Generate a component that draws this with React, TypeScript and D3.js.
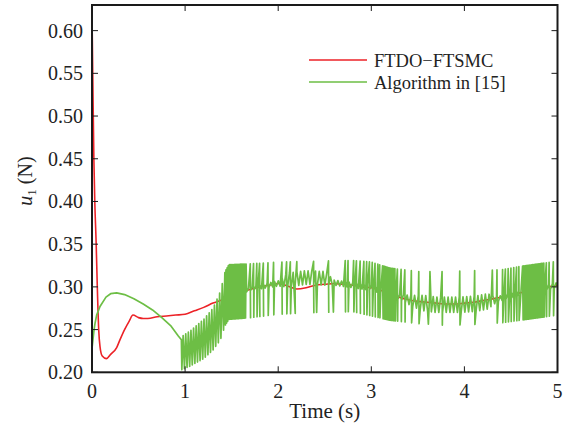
import React, { useEffect, useRef } from 'react';
import * as d3 from 'd3';

// FTDO-FTSMC control input u1
const redT = [0, 0.008, 0.02, 0.03, 0.045, 0.057, 0.072, 0.086, 0.11, 0.155, 0.2, 0.265, 0.3, 0.35, 0.4, 0.44, 0.5, 0.55, 0.6, 0.7, 0.8, 0.9, 1.0, 1.1, 1.2, 1.3, 1.4, 1.5, 1.6, 1.7, 1.8, 1.9, 2.0, 2.1, 2.2, 2.3, 2.4, 2.5, 2.6, 2.7, 2.8, 2.9, 3.0, 3.1, 3.2, 3.3, 3.4, 3.5, 3.6, 3.7, 3.8, 3.9, 4.0, 4.1, 4.2, 4.3, 4.4, 4.5, 4.6, 4.7, 4.8, 4.9, 5.0];
const redV = [0.62, 0.55, 0.45, 0.40, 0.35, 0.30, 0.25, 0.23, 0.219, 0.216, 0.221, 0.229, 0.238, 0.25, 0.26, 0.267, 0.264, 0.263, 0.263, 0.265, 0.266, 0.267, 0.268, 0.272, 0.276, 0.281, 0.285, 0.29, 0.294, 0.297, 0.30, 0.302, 0.304, 0.301, 0.2975, 0.299, 0.302, 0.303, 0.304, 0.303, 0.302, 0.30, 0.299, 0.296, 0.292, 0.288, 0.285, 0.283, 0.282, 0.281, 0.28, 0.28, 0.281, 0.282, 0.284, 0.286, 0.288, 0.29, 0.293, 0.296, 0.298, 0.30, 0.302];

// Algorithm in [15]: smooth start, then chattering
const greenT = [0, 0.02, 0.032, 0.05, 0.086, 0.15, 0.2, 0.265, 0.35, 0.45, 0.55, 0.65, 0.75, 0.85, 0.927, 0.96];
const greenV = [0.228, 0.248, 0.257, 0.267, 0.277, 0.288, 0.292, 0.293, 0.291, 0.286, 0.28, 0.273, 0.264, 0.254, 0.2425, 0.238];

// chattering envelope (upper / lower)
const envT = [0.965, 1.05, 1.2, 1.3, 1.38, 1.43, 1.47, 1.7, 2.0, 2.4, 2.8, 3.0, 3.2, 3.5, 3.8, 4.1, 4.4, 4.6, 4.8, 5.0];
const envHi = [0.242, 0.248, 0.262, 0.275, 0.295, 0.318, 0.326, 0.327, 0.329, 0.330, 0.331, 0.329, 0.322, 0.318, 0.318, 0.319, 0.320, 0.324, 0.327, 0.330];
const envLo = [0.203, 0.207, 0.216, 0.226, 0.238, 0.255, 0.262, 0.264, 0.268, 0.270, 0.271, 0.266, 0.261, 0.257, 0.255, 0.256, 0.258, 0.261, 0.264, 0.267];

// centre and width of the small noise between spikes
const midT = [1.66, 1.8, 2.0, 2.1, 2.3, 2.5, 2.6, 2.8, 3.0, 3.3, 3.5, 3.7, 3.9, 4.1, 4.3, 4.5, 4.7, 5.0];
const midV = [0.296, 0.300, 0.304, 0.308, 0.311, 0.310, 0.305, 0.302, 0.299, 0.288, 0.282, 0.279, 0.279, 0.280, 0.284, 0.29, 0.295, 0.302];
const noiseT = [1.66, 2.0, 2.1, 2.5, 2.6, 3.3, 3.55, 4.25, 4.35, 5.0];
const noiseA = [0.002, 0.003, 0.008, 0.008, 0.003, 0.003, 0.009, 0.009, 0.003, 0.003];

// dense chattering bands: [from, to, period]
const denseBands = [[0.965, 1.42, 0.028], [1.42, 1.66, 0.012], [3.11, 3.26, 0.012], [4.61, 4.86, 0.012]];

// isolated spikes: b = both ways, u = up only, d = down only
const spikes: [number, string][] = [[1.70, 'b'], [1.735, 'b'], [1.77, 'b'], [1.80, 'b'], [1.84, 'b'], [1.89, 'b'], [1.95, 'b'], [2.04, 'b'], [2.09, 'b'], [2.13, 'b'], [2.18, 'd'], [2.20, 'u'], [2.38, 'b'], [2.41, 'd'], [2.54, 'b'], [2.59, 'd'], [2.72, 'b'], [2.75, 'b'], [2.81, 'b'], [2.84, 'b'], [2.88, 'b'], [2.92, 'b'], [2.95, 'b'], [2.98, 'b'], [3.01, 'b'], [3.04, 'b'], [3.07, 'b'], [3.09, 'b'], [3.28, 'b'], [3.32, 'b'], [3.36, 'b'], [3.43, 'b'], [3.51, 'b'], [3.61, 'd'], [3.63, 'u'], [3.76, 'b'], [3.95, 'b'], [4.11, 'b'], [4.30, 'u'], [4.35, 'b'], [4.41, 'b'], [4.44, 'b'], [4.47, 'b'], [4.50, 'b'], [4.53, 'b'], [4.56, 'b'], [4.585, 'b'], [4.88, 'b'], [4.91, 'b'], [4.955, 'b']];

const xTicks = [0, 1, 2, 3, 4, 5];
const yTicks = [0.20, 0.25, 0.30, 0.35, 0.40, 0.45, 0.50, 0.55, 0.60];
const legendLabels = ['FTDO\u2212FTSMC', 'Algorithm in [15]'];
const colors = ['#ec2227', '#6dbe45'];

const W = 568;
const H = 428;
const left = 92, right = 557.5, top = 5, bottom = 372.3;
const font = '"Liberation Serif", "Times New Roman", serif';

function greenPoints() {
  const hiS = d3.scaleLinear().domain(envT).range(envHi).clamp(true);
  const loS = d3.scaleLinear().domain(envT).range(envLo).clamp(true);
  const midS = d3.scaleLinear().domain(midT).range(midV).clamp(true);
  const ampS = d3.scaleLinear().domain(noiseT).range(noiseA).clamp(true);
  const pts: [number, number][] = greenT.map((t, i) => [t, greenV[i]]);
  let t = denseBands[0][0];
  let up = false;
  let k = 0;
  while (t < 5) {
    const band = denseBands.find(b => t >= b[0] && t < b[1]);
    if (band) {
      pts.push([t, up ? hiS(t) : loS(t)]);
      up = !up;
      t += band[2] / 2;
      continue;
    }
    while (k < spikes.length && spikes[k][0] <= t) {
      const [ts, kind] = spikes[k++];
      if (kind !== 'd') pts.push([ts, hiS(ts)]);
      if (kind !== 'u') pts.push([ts + 0.003, loS(ts)]);
    }
    pts.push([t, midS(t) + (up ? 1 : -1) * ampS(t)]);
    up = !up;
    t += 0.02;
  }
  pts.push([5, midS(5)]);
  return pts;
}

export default function App() {
  const ref = useRef<SVGSVGElement>(null);

  useEffect(() => {
    const svg = d3.select(ref.current);
    svg.selectAll('*').remove();

    const x = d3.scaleLinear().domain([0, 5]).range([left, right]);
    const y = d3.scaleLinear().domain([0.2, 0.63]).range([bottom, top]);

    const clip = svg.append('defs').append('clipPath').attr('id', 'plotclip');
    clip.append('rect').attr('x', left).attr('y', top).attr('width', right - left).attr('height', bottom - top);

    const line = d3.line<[number, number]>().x(d => x(d[0])).y(d => y(d[1]));

    const g = svg.append('g').attr('clip-path', 'url(#plotclip)');
    g.append('path')
      .datum(redT.map((t, i) => [t, redV[i]] as [number, number]))
      .attr('d', line.curve(d3.curveMonotoneX))
      .attr('fill', 'none')
      .attr('stroke', colors[0])
      .attr('stroke-width', 1.6)
      .attr('stroke-linejoin', 'round');
    g.append('path')
      .datum(greenPoints())
      .attr('d', line.curve(d3.curveLinear))
      .attr('fill', 'none')
      .attr('stroke', colors[1])
      .attr('stroke-width', 1.7)
      .attr('stroke-linejoin', 'round');

    // ticks inside, on all four sides
    const tk = 6;
    const ax = svg.append('g').attr('stroke', '#1a1a1a').attr('stroke-width', 1);
    xTicks.forEach(v => {
      ax.append('line').attr('x1', x(v)).attr('x2', x(v)).attr('y1', bottom).attr('y2', bottom - tk);
      ax.append('line').attr('x1', x(v)).attr('x2', x(v)).attr('y1', top).attr('y2', top + tk);
    });
    yTicks.forEach(v => {
      ax.append('line').attr('x1', left).attr('x2', left + tk).attr('y1', y(v)).attr('y2', y(v));
      ax.append('line').attr('x1', right).attr('x2', right - tk).attr('y1', y(v)).attr('y2', y(v));
    });

    svg.append('rect')
      .attr('x', left).attr('y', top)
      .attr('width', right - left).attr('height', bottom - top)
      .attr('fill', 'none').attr('stroke', '#1a1a1a').attr('stroke-width', 2);

    const lab = svg.append('g').attr('font-family', font).attr('font-size', 20).attr('fill', '#222');
    xTicks.forEach(v => {
      lab.append('text').attr('x', x(v)).attr('y', 398).attr('text-anchor', 'middle').text(d3.format('d')(v));
    });
    yTicks.forEach(v => {
      lab.append('text').attr('x', left - 9).attr('y', y(v) + 7).attr('text-anchor', 'end').text(d3.format('.2f')(v));
    });
    lab.append('text').attr('x', (left + right) / 2).attr('y', 418).attr('text-anchor', 'middle')
      .attr('font-size', 21).text('Time (s)');

    const yl = lab.append('text')
      .attr('transform', 'translate(32,181) rotate(-90)')
      .attr('text-anchor', 'middle');
    yl.append('tspan').attr('font-style', 'italic').text('u');
    yl.append('tspan').attr('font-size', 13).attr('dy', 4).text('1');
    yl.append('tspan').attr('dy', -4).text(' (N)');

    // legend
    legendLabels.forEach((name, i) => {
      const ly = 60 + i * 22;
      svg.append('line').attr('x1', 309).attr('x2', 367).attr('y1', ly).attr('y2', ly)
        .attr('stroke', colors[i]).attr('stroke-width', 1.6);
      lab.append('text').attr('x', 374).attr('y', ly + 7).attr('font-size', 18.5).text(name);
    });
  }, []);

  return (
    <svg ref={ref} width={W} height={H}
      style={{ position: 'absolute', left: 0, top: 0, display: 'block', background: '#fff' }} />
  );
}
